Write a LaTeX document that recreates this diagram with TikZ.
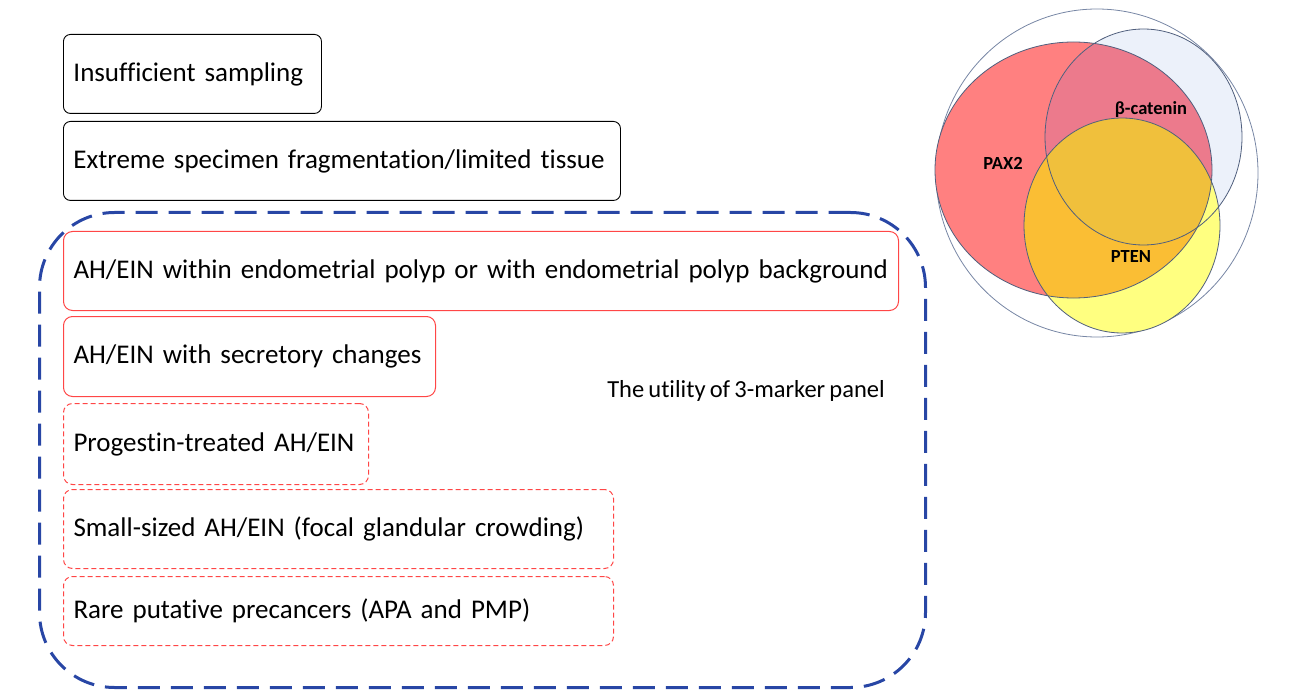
\documentclass[tikz,border=0pt]{standalone}
\usepackage{fontspec}
\setmainfont{Carlito}[Ligatures=NoCommon]
\usetikzlibrary{positioning}
\definecolor{panelblue}{RGB}{40,70,165}
\definecolor{boxred}{RGB}{255,70,70}
\definecolor{vline}{RGB}{80,95,125}
\definecolor{vouter}{RGB}{120,135,165}
\definecolor{pax}{RGB}{255,128,128}
\definecolor{bcat}{RGB}{236,241,250}
\definecolor{pink}{RGB}{236,122,140}
\definecolor{pten}{RGB}{255,255,128}
\definecolor{orangey}{RGB}{250,190,52}
\definecolor{orangeb}{RGB}{240,192,60}
\newcommand{\tightspace}{\spaceskip=0.17em plus 0.05em minus 0.02em\relax}
\tikzset{
  x=1pt, y=-1pt,
  basebox/.style={rectangle, anchor=north west, inner xsep=10pt, inner ysep=0pt, align=left,
     font=\fontsize{27}{31}\selectfont\tightspace, text=black},
  blackbox/.style={basebox, draw=black, line width=0.9pt, rounded corners=7pt},
  redbox/.style={basebox, draw=boxred, line width=1pt, rounded corners=9pt},
  reddash/.style={redbox, dash pattern=on 5pt off 3pt},
  panel/.style={rectangle, anchor=north west, draw=panelblue, line width=3pt, rounded corners=75pt,
     dash pattern=on 22pt off 11pt},
  vennline/.style={draw=vline, line width=0.8pt},
  vlabel/.style={font=\bfseries\fontsize{18.5}{22}\selectfont, text=black},
}
\begin{document}
\begin{tikzpicture}
\useasboundingbox (0,0) rectangle (1315,695);
% left boxes
\node[blackbox, text width=238pt, minimum height=79pt] (b1) at (63,34) {Insufficient sampling};
\node[blackbox, text width=537pt, minimum height=79pt] (b2) at (63,121) {Extreme specimen fragmentation/limited tissue};
\node[panel, minimum width=886pt, minimum height=475pt] (panel) at (38,211) {};
\node[redbox, text width=815pt, minimum height=79pt] (r1) at (63,231) {AH/EIN within endometrial polyp or with endometrial polyp background};
\node[redbox, text width=352pt, minimum height=80pt] (r2) at (63,316) {AH/EIN with secretory changes};
\node[reddash, text width=285pt, minimum height=81pt] (r3) at (63,403) {Progestin-treated AH/EIN};
\node[reddash, text width=530pt, minimum height=79pt] (r4) at (63,489) {Small-sized AH/EIN (focal glandular crowding)};
\node[reddash, text width=530pt, minimum height=69pt] (r5) at (63,576) {Rare putative precancers (APA and PMP)};
\node[font=\fontsize{24.5}{28}\selectfont\tightspace] (util) at (746,391) {The utility of 3-marker panel};
% Venn diagram
\draw[draw=vouter, line width=0.8pt, fill=white] (1097,173) ellipse [x radius=161, y radius=164];
\fill[pax] (1073.5,170) ellipse [x radius=138.5, y radius=128];
\fill[bcat] (1143.5,137) ellipse [x radius=98.5, y radius=108];
\begin{scope}
  \clip (1143.5,137) ellipse [x radius=98.5, y radius=108];
  \fill[pink] (1073.5,170) ellipse [x radius=138.5, y radius=128];
\end{scope}
\fill[pten] (1122,225.5) ellipse [x radius=98, y radius=107.5];
\begin{scope}
  \clip (1122,225.5) ellipse [x radius=98, y radius=107.5];
  \fill[orangey] (1073.5,170) ellipse [x radius=138.5, y radius=128];
  \clip (1143.5,137) ellipse [x radius=98.5, y radius=108];
  \fill[orangeb] (1073.5,170) ellipse [x radius=138.5, y radius=128];
\end{scope}
\draw[vennline] (1073.5,170) ellipse [x radius=138.5, y radius=128];
\draw[vennline] (1143.5,137) ellipse [x radius=98.5, y radius=108];
\draw[vennline] (1122,225.5) ellipse [x radius=98, y radius=107.5];
\node[vlabel] (pax2) at (1003,163) {PAX2};
\node[vlabel] (bcatl) at (1151,110) {β-catenin};
\node[vlabel] (ptenl) at (1131,257) {PTEN};
\end{tikzpicture}
\end{document}
